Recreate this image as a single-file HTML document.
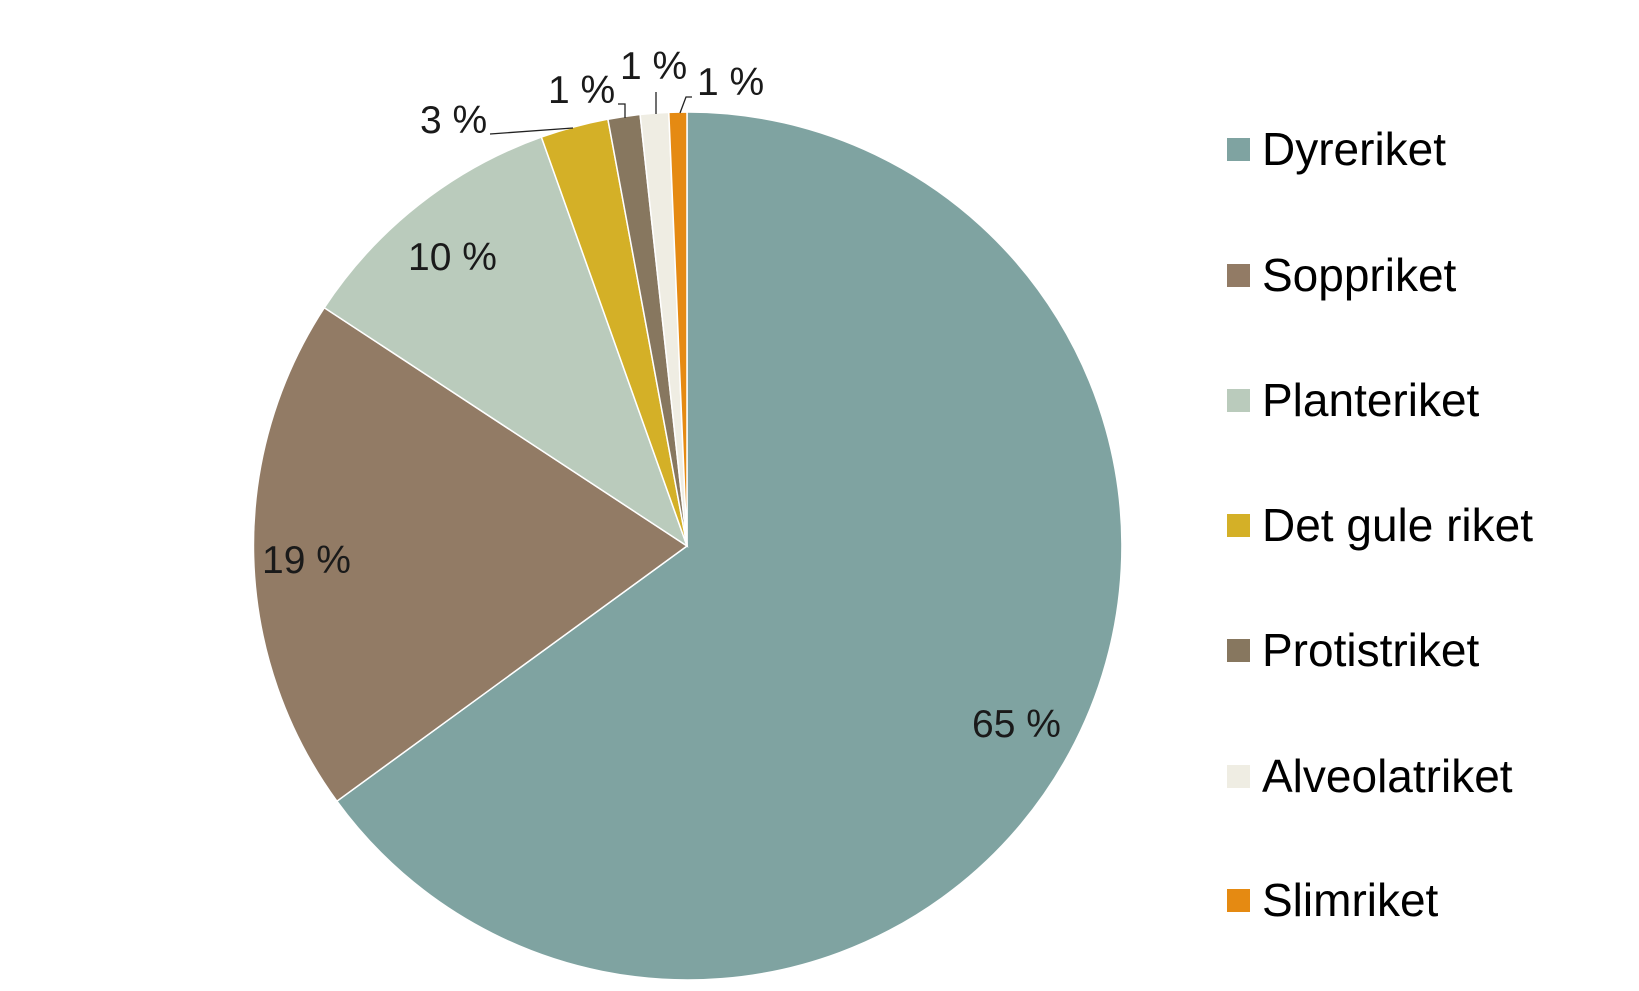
<!DOCTYPE html>
<html><head><meta charset="utf-8"><style>
html,body{margin:0;padding:0;background:#fff;}
svg{display:block;}
text{font-family:"Liberation Sans",sans-serif;}
</style></head><body>
<svg width="1639" height="991" viewBox="0 0 1639 991" xmlns="http://www.w3.org/2000/svg">
<g stroke="#fff" stroke-width="1.5">
<path d="M687,546 L687,112 A434,434 0 1,1 336.9,801.2 Z" fill="#7fa3a1"/>
<path d="M687,546 L336.9,801.2 A434,434 0 0,1 324.3,307.7 Z" fill="#927b65"/>
<path d="M687,546 L324.3,307.7 A434,434 0 0,1 541.4,137.1 Z" fill="#bacbbc"/>
<path d="M687,546 L541.4,137.1 A434,434 0 0,1 607.9,119.2 Z" fill="#d4b027"/>
<path d="M687,546 L607.9,119.2 A434,434 0 0,1 640.1,114.5 Z" fill="#87775f"/>
<path d="M687,546 L640.1,114.5 A434,434 0 0,1 668.8,112.4 Z" fill="#efede3"/>
<path d="M687,546 L668.8,112.4 A434,434 0 0,1 687,112 Z" fill="#e58a12"/>
</g>
<g stroke="#222" stroke-width="1.3" fill="none">
<path d="M490,134 L573,128"/>
<path d="M618,104 L625,104 L625,118"/>
<path d="M656,92 L656,114"/>
<path d="M692,97 L686,97 L680,113"/>
</g>
<g font-size="39" fill="#1a1a1a">
<text x="420" y="133">3 %</text>
<text x="548" y="103">1 %</text>
<text x="620" y="79">1 %</text>
<text x="697" y="95">1 %</text>
<text x="408" y="270">10 %</text>
<text x="262" y="573">19 %</text>
<text x="972" y="737">65 %</text>
</g>
<g font-size="46" fill="#000">
<rect x="1227" y="138" width="23" height="23" fill="#7fa3a1"/><text x="1262" y="165">Dyreriket</text>
<rect x="1227" y="264" width="23" height="23" fill="#927b65"/><text x="1262" y="291">Soppriket</text>
<rect x="1227" y="389" width="23" height="23" fill="#bacbbc"/><text x="1262" y="416">Planteriket</text>
<rect x="1227" y="514" width="23" height="23" fill="#d4b027"/><text x="1262" y="541">Det gule riket</text>
<rect x="1227" y="639" width="23" height="23" fill="#87775f"/><text x="1262" y="666">Protistriket</text>
<rect x="1227" y="765" width="23" height="23" fill="#efede3"/><text x="1262" y="792">Alveolatriket</text>
<rect x="1227" y="889" width="23" height="23" fill="#e58a12"/><text x="1262" y="916">Slimriket</text>
</g>
</svg>
</body></html>
